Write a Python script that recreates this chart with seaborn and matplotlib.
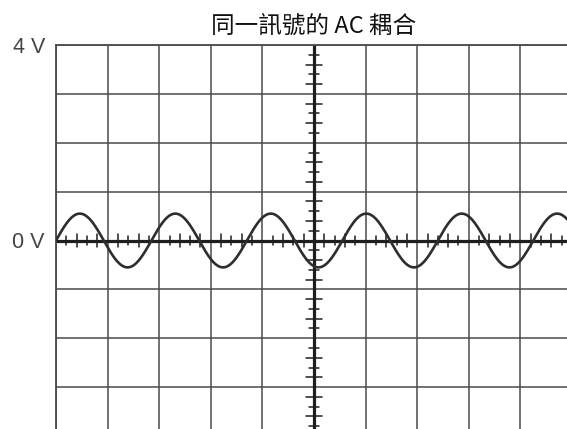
import numpy as np
import pandas as pd
import matplotlib
matplotlib.use("Agg")
import matplotlib.pyplot as plt
import seaborn as sns

# ---- data ----
title_text = "同一訊號的 AC 耦合"
y_tick_values = [4, 0]
y_tick_labels = ["4 V", "0 V"]
x_divisions = [0, 1, 2, 3, 4, 5, 6, 7, 8, 9, 10]
y_divisions = [-4, -3, -2, -1, 0, 1, 2, 3, 4]
signal_amplitude_v = 0.55      # volts (1 V / div)
signal_period_div = 1.85       # horizontal divisions per cycle
signal_offset_v = 0.0          # AC coupled: centred on 0 V

sns.set_style("white")
plt.rcParams['font.family'] = ['Noto Sans CJK TC', 'DejaVu Sans']

fig = plt.figure(figsize=(5.67, 4.29), dpi=100)
ax = fig.add_axes([56/567, 1 - 436/429, 516/567, 391/429])
ax.set_xlim(0, 10)
ax.set_ylim(-4, 4)

grid_c = "#4a4a4a"
for xv in x_divisions:
    ax.axvline(xv, color=grid_c, lw=1.1, zorder=1)
for yv in y_divisions:
    ax.axhline(yv, color=grid_c, lw=1.1, zorder=1)

# centre axes
ax.axhline(0, color="#1e1e1e", lw=2.3, zorder=2)
ax.axvline(5, color="#1e1e1e", lw=2.3, zorder=2)

# minor ticks on centre axes (5 per division, alternating size)
xt = np.arange(0, 10.001, 0.2)
for i, xv in enumerate(xt):
    if abs(xv - round(xv)) < 1e-6:
        continue
    h = 0.13 if i % 2 == 0 else 0.09
    ax.plot([xv, xv], [-h, h], color="#1e1e1e", lw=1.1, zorder=2)
yt = np.arange(-4, 4.001, 0.2)
for i, yv in enumerate(yt):
    if abs(yv - round(yv)) < 1e-6:
        continue
    h = 0.16 if i % 2 == 0 else 0.10
    ax.plot([5 - h, 5 + h], [yv, yv], color="#1e1e1e", lw=1.1, zorder=2)

# signal
t = np.linspace(0, 10, 1200)
df = pd.DataFrame({
    "t": t,
    "v": signal_offset_v + signal_amplitude_v * np.sin(2 * np.pi * t / signal_period_div),
})
sns.lineplot(data=df, x="t", y="v", ax=ax, color="#2e2e2e", lw=1.9, zorder=3)

ax.set_xlabel("")
ax.set_ylabel("")
ax.set_xticks([])
ax.set_yticks(y_tick_values)
ax.set_yticklabels(y_tick_labels, family=['Liberation Sans', 'DejaVu Sans'],
                   fontsize=15.5, color="#454545")
ax.tick_params(axis="y", length=0, pad=8)
for s in ["top", "left", "right", "bottom"]:
    ax.spines[s].set_color(grid_c)
    ax.spines[s].set_linewidth(1.3)

ax.set_title(title_text, fontsize=17, color="#111111", pad=9,
             family=['Noto Sans CJK TC', 'Liberation Sans', 'DejaVu Sans'])

fig.savefig("out.png", dpi=100)
